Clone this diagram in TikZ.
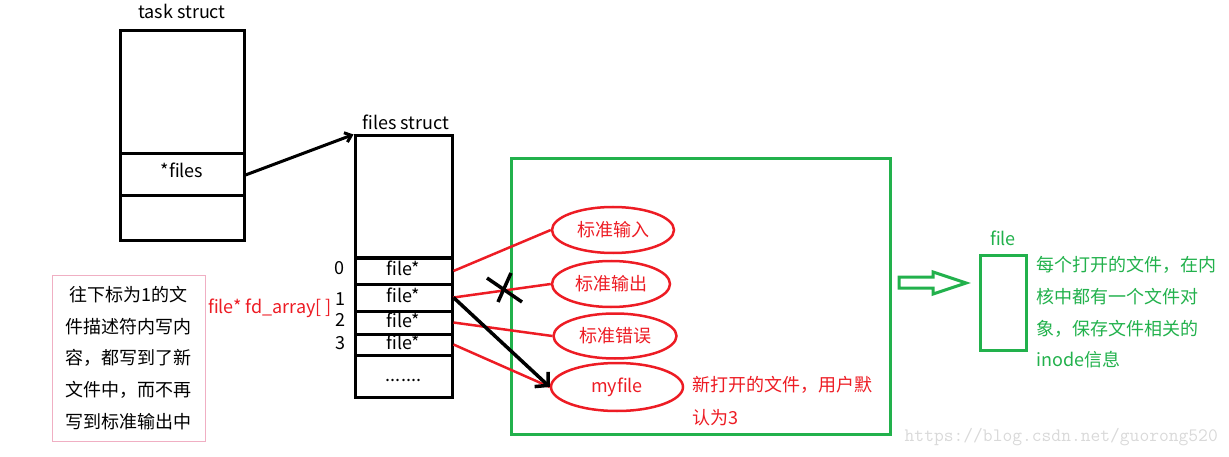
\documentclass[tikz,border=0pt]{standalone}
\usepackage{fontspec}
\setmainfont{Noto Sans CJK SC}
\usetikzlibrary{shapes.geometric,arrows.meta}
\definecolor{pred}{RGB}{237,28,36}
\definecolor{pgreen}{RGB}{34,177,76}
\definecolor{ppink}{RGB}{240,175,195}
\begin{document}
\begin{tikzpicture}[x=1pt,y=-1pt,
    every node/.style={font=\fontsize{18}{20}\selectfont,inner sep=0pt},
    box/.style={draw,line width=3pt,minimum width=124pt},
    cell/.style={draw,line width=3pt,minimum width=97pt,text height=12pt,text depth=2pt},
    oval/.style={ellipse,draw=pred,line width=2.5pt,text=pred,font=\fontsize{18}{20}\selectfont},
    redline/.style={pred,line width=2.5pt}]
        \useasboundingbox (0,0) rectangle (1229,457);
        % task struct
        \node[box,minimum height=123pt] (tasktop) at (182,92.5) {};
        \node[box,minimum height=42pt,text height=13pt,text depth=7pt] (taskfiles) at (182,175) {*files};
        \node[box,minimum height=45pt] (taskbot) at (182,218.5) {};
        \node (tasklabel) at (182,11) {task struct};
        % files struct with fd_array
        \node[cell,minimum height=122pt] (filestop) at (403.5,197) {};
        \node[cell,minimum height=26pt] (fd0) at (403.5,271) {file*};
        \node[cell,minimum height=27pt] (fd1) at (403.5,297.5) {file*};
        \node[cell,minimum height=23pt] (fd2) at (403.5,322.5) {file*};
        \node[cell,minimum height=21pt] (fd3) at (403.5,344.5) {file*};
        \node[cell,minimum height=42pt] (fdrest) at (403.5,376) {.......};
        \node (fileslabel) at (406,122) {files struct};
        \node (idx0) at (339,268) {0}; \node (idx1) at (340,299) {1};
        \node (idx2) at (340,320) {2}; \node (idx3) at (340,343) {3};
        \node[text=pred] (fdarray) at (270,308) {file* fd\_array[ ]};
        \draw[line width=3pt,-{Straight Barb[length=6pt,width=10pt]}] (taskfiles.east) -- (filestop.north west);
        % note on the left
        \node[draw=ppink,line width=1pt,minimum width=153pt,minimum height=166pt,align=center,
            font=\fontsize{18}{31.7}\selectfont] (note) at (128.5,358)
            {往下标为1的文\\件描述符内写内\\容，都写到了新\\文件中，而不再\\写到标准输出中};
        % opened files
        \draw[pgreen,line width=3pt] (511,159) rectangle (890,434);
        \node[oval,minimum width=122pt,minimum height=46pt] (stdin) at (613,230) {标准输入};
        \node[oval,minimum width=118pt,minimum height=46pt] (stdout) at (611,284) {标准输出};
        \node[oval,minimum width=123pt,minimum height=45pt] (stderr) at (615,336) {标准错误};
        \node[oval,minimum width=132pt,minimum height=48pt] (myfile) at (617,387) {myfile};
        \draw[redline] (fd0.east) -- (stdin.west);
        \draw[redline] (fd1.east) -- (stdout.west);
        \draw[redline] (fd2.east) -- (stderr.west);
        \draw[redline] (fd3.east) -- (myfile.west);
        \draw[line width=3.5pt,-{Straight Barb[length=9pt,width=20pt]}] (fd1.east) -- (myfile.west);
        % stdout is cut off
        \draw[line width=3.5pt] (487,278) -- (522,302); \draw[line width=3.5pt] (511,273) -- (498,302);
        \node[text=pred,anchor=west,align=left,font=\fontsize{18}{33}\selectfont] (newnote) at (692,401.5)
            {新打开的文件，用户默\\认为3};
        % kernel file object
        \draw[pgreen,line width=3pt] (899,277) -- (933,277) -- (933,272) -- (966,283) -- (933,294) -- (933,288) -- (899,288) -- cycle;
        \node[draw=pgreen,line width=3pt,minimum width=46pt,minimum height=94pt] (filebox) at (1003,303) {};
        \node[text=pgreen] (filelabel) at (1003,238) {file};
        \node[text=pgreen,anchor=west,align=left,font=\fontsize{18}{31.7}\selectfont] (filenote) at (1036,312.5)
            {每个打开的文件，在内\\核中都有一个文件对\\象，保存文件相关的\\inode信息};
        \node[text=black!15,anchor=east,font=\ttfamily\fontsize{19}{20}\selectfont] (mark) at (1218,437)
            {https://blog.csdn.net/guorong520};
    \end{tikzpicture}
\end{document}
